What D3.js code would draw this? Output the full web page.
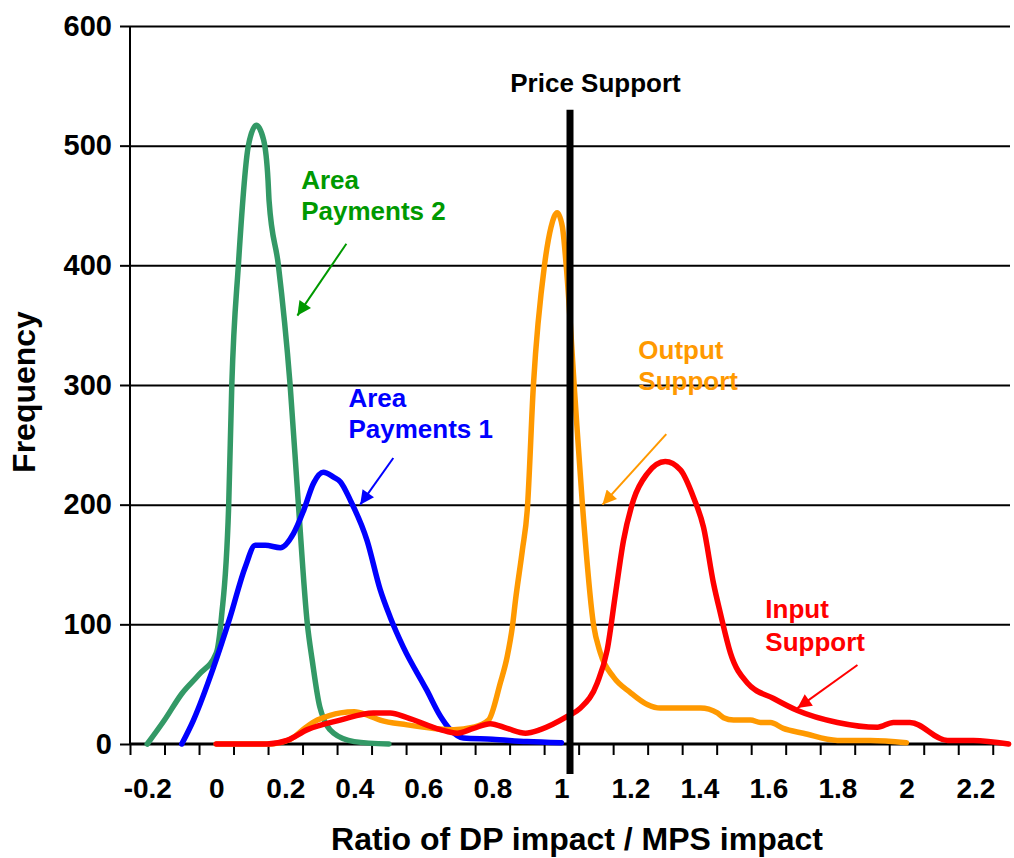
<!DOCTYPE html>
<meta charset="utf-8">
<script src="https://d3js.org/d3.v7.min.js"></script>
<style>
  body { margin: 0; background: #fff; }
  text { font-family: "Liberation Sans", Arial, sans-serif; font-weight: bold; }
</style>
<body>
  <div id="my_dataviz"></div>
  <script>

    // Data: [ratio, frequency]
    var areaPayments2 = [[-0.2,0],[-0.15,20],[-0.1,42],[-0.05,58],[0,76],[0.015,106],[0.036,200],[0.045,300],
      [0.064,400],[0.093,500],[0.116,517],[0.137,505],[0.15,471],[0.153,454],[0.18,400],[0.214,300],
      [0.238,200],[0.264,100],[0.278,70],[0.3,31],[0.34,9],[0.4,2],[0.5,0]];

    var areaPayments1 = [[-0.1,0],[-0.066,20],[-0.008,64],[0.04,106],[0.084,148],[0.113,166],[0.142,166],
      [0.186,164],[0.224,176],[0.253,195],[0.282,218],[0.31,227],[0.34,223],[0.36,219],[0.388,204],
      [0.437,170],[0.475,129],[0.504,106],[0.542,81],[0.61,45],[0.65,23],[0.678,12],[0.716,5],
      [0.8,4],[0.9,2],[1.0,1]];

    var outputSupport = [[0,0],[0.15,0],[0.215,4],[0.26,14],[0.293,20],[0.33,24],[0.36,26],[0.4,27],
      [0.44,24],[0.475,20],[0.553,16],[0.63,13],[0.688,12],[0.745,14],[0.789,20],[0.823,51],[0.843,73],
      [0.858,98],[0.867,120],[0.887,162],[0.901,195],[0.919,300],[0.951,400],[0.97,432],[0.988,444],
      [1.003,432],[1.014,400],[1.04,287],[1.061,200],[1.093,100],[1.113,76],[1.151,56],[1.2,43],
      [1.249,33],[1.287,30],[1.345,30],[1.403,30],[1.452,26],[1.47,22],[1.499,20],[1.548,20],
      [1.577,18],[1.606,18],[1.643,13],[1.701,9],[1.8,3],[1.896,3],[2.0,1]];

    var inputSupport = [[0,0],[0.147,0],[0.205,3],[0.264,12],[0.359,20],[0.455,26],[0.504,26],[0.553,22],
      [0.649,12],[0.698,9],[0.745,13],[0.794,17],[0.843,13],[0.896,9],[0.939,12],[1.017,23],[1.055,30],
      [1.104,51],[1.133,79],[1.157,126],[1.18,170],[1.209,204],[1.249,226],[1.301,236],[1.345,229],
      [1.383,206],[1.412,181],[1.441,134],[1.461,109],[1.49,76],[1.539,51],[1.615,38],[1.684,28],
      [1.8,18],[1.916,14],[1.962,18],[2.01,18],[2.119,3],[2.194,3],[2.296,0]];

    // Price support marker (ratio, bottom, top)
    var priceSupport = {x: 1.025, y0: -25, y1: 530};

    // Axis ticks
    var xLabelValues = [-0.2, 0, 0.2, 0.4, 0.6, 0.8, 1, 1.2, 1.4, 1.6, 1.8, 2, 2.2];
    var xTickMarks = [-0.25,-0.15,-0.05,0.05,0.15,0.25,0.35,0.45,0.55,0.65,0.75,0.85,0.95,1.05,1.15,
      1.25,1.35,1.45,1.55,1.65,1.75,1.85,1.95,2.05,2.15,2.25];
    var yTickValues = [0, 100, 200, 300, 400, 500, 600];

    // Set the dimensions and margins of the graph
    var margin = {top: 26, right: 4, bottom: 114, left: 130},
        width = 1014 - margin.left - margin.right,
        height = 858 - margin.top - margin.bottom;

    var svg = d3.select("#my_dataviz")
      .append("svg")
        .attr("width", 1014)
        .attr("height", 858)
      .append("g")
        .attr("transform", "translate(" + margin.left + "," + margin.top + ")");

    var x = d3.scaleLinear().domain([-0.25, 2.3]).range([0, 880]);
    var y = d3.scaleLinear().domain([0, 600]).range([height, 0]);

    // Arrow heads
    var defs = svg.append("defs");
    ["#009900", "#0000ff", "#ff9900", "#ff0000"].forEach(function(c, i) {
      defs.append("marker")
        .attr("id", "arrow" + i)
        .attr("viewBox", "0 0 10 10")
        .attr("refX", 10).attr("refY", 5)
        .attr("markerWidth", 8).attr("markerHeight", 7)
        .attr("markerUnits", "strokeWidth")
        .attr("orient", "auto")
        .append("path")
          .attr("d", "M0,0 L10,5 L0,10 z")
          .attr("fill", c);
    });

    // Horizontal gridlines
    svg.append("g")
      .call(d3.axisLeft(y).tickValues(yTickValues.slice(1)).tickSize(-880).tickFormat(""))
      .call(function(g) { g.select(".domain").remove(); })
      .selectAll("line")
        .attr("stroke", "#000")
        .attr("stroke-width", 2);

    // Y axis
    var yAxis = svg.append("g")
      .call(d3.axisLeft(y).tickValues(yTickValues).tickSize(10).tickPadding(8));
    yAxis.select(".domain").remove();
    yAxis.selectAll("line").attr("stroke", "#000").attr("stroke-width", 2);
    yAxis.selectAll("text").attr("font-size", 29).attr("fill", "#000");
    svg.append("line")
      .attr("x1", 0).attr("x2", 0)
      .attr("y1", y(600)).attr("y2", y(0))
      .attr("stroke", "#000").attr("stroke-width", 2);

    // X axis tick marks
    var xMarks = svg.append("g")
      .attr("transform", "translate(0," + height + ")")
      .call(d3.axisBottom(x).tickValues(xTickMarks).tickSize(11).tickFormat(""));
    xMarks.select(".domain").remove();
    xMarks.selectAll("line").attr("stroke", "#000").attr("stroke-width", 2);

    // X axis labels (between tick marks)
    var xLabels = svg.append("g")
      .attr("transform", "translate(0," + height + ")")
      .call(d3.axisBottom(x).tickValues(xLabelValues).tickSize(0).tickPadding(34)
        .tickFormat(function(d) { return String(d); }));
    xLabels.select(".domain").remove();
    xLabels.selectAll("text").attr("font-size", 28).attr("fill", "#000");

    svg.append("line")
      .attr("x1", 0).attr("x2", 880)
      .attr("y1", height).attr("y2", height)
      .attr("stroke", "#000").attr("stroke-width", 3);

    // Axis titles
    svg.append("text")
      .attr("transform", "translate(" + (35 - margin.left) + "," + (392 - margin.top) + ") rotate(-90)")
      .attr("text-anchor", "middle")
      .attr("font-size", 32)
      .text("Frequency");

    svg.append("text")
      .attr("x", 577 - margin.left)
      .attr("y", 850 - margin.top)
      .attr("text-anchor", "middle")
      .attr("font-size", 32)
      .text("Ratio of DP impact / MPS impact");

    // Annotations: label lines and arrows (in data coordinates)
    var notes = [
      {lines: ["Area", "Payments 2"], x: 0.246, y: [464, 438], color: "#009900", from: [0.377, 418], to: [0.235, 358], m: 0},
      {lines: ["Area", "Payments 1"], x: 0.383, y: [282, 256], color: "#0000ff", from: [0.513, 239], to: [0.417, 200], m: 1},
      {lines: ["Output", "Support"], x: 1.223, y: [322, 296], color: "#ff9900", from: [1.304, 259], to: [1.119, 200], m: 2},
      {lines: ["Input", "Support"], x: 1.591, y: [105, 78], color: "#ff0000", from: [1.858, 66], to: [1.684, 30], m: 3}
    ];
    notes.forEach(function(n) {
      n.lines.forEach(function(t, i) {
        svg.append("text")
          .attr("x", x(n.x))
          .attr("y", y(n.y[i]))
          .attr("font-size", 26)
          .attr("fill", n.color)
          .text(t);
      });
      svg.append("line")
        .attr("x1", x(n.from[0])).attr("y1", y(n.from[1]))
        .attr("x2", x(n.to[0])).attr("y2", y(n.to[1]))
        .attr("stroke", n.color)
        .attr("stroke-width", 2)
        .attr("marker-end", "url(#arrow" + n.m + ")");
    });

    // Curves
    var line = d3.line()
      .x(function(d) { return x(d[0]); })
      .y(function(d) { return y(d[1]); })
      .curve(d3.curveMonotoneX);

    [[areaPayments2, "#339966"], [areaPayments1, "#0000ff"], [outputSupport, "#ff9900"], [inputSupport, "#ff0000"]]
      .forEach(function(s) {
        svg.append("path")
          .datum(s[0])
          .attr("fill", "none")
          .attr("stroke", s[1])
          .attr("stroke-width", 5.5)
          .attr("stroke-linecap", "round")
          .attr("stroke-linejoin", "round")
          .attr("d", line);
      });

    // Price support line
    svg.append("line")
      .attr("x1", x(priceSupport.x)).attr("x2", x(priceSupport.x))
      .attr("y1", y(priceSupport.y0)).attr("y2", y(priceSupport.y1))
      .attr("stroke", "#000")
      .attr("stroke-width", 7);

    svg.append("text")
      .attr("x", x(1.099))
      .attr("y", y(545))
      .attr("text-anchor", "middle")
      .attr("font-size", 26)
      .text("Price Support");

  </script>
</body>
